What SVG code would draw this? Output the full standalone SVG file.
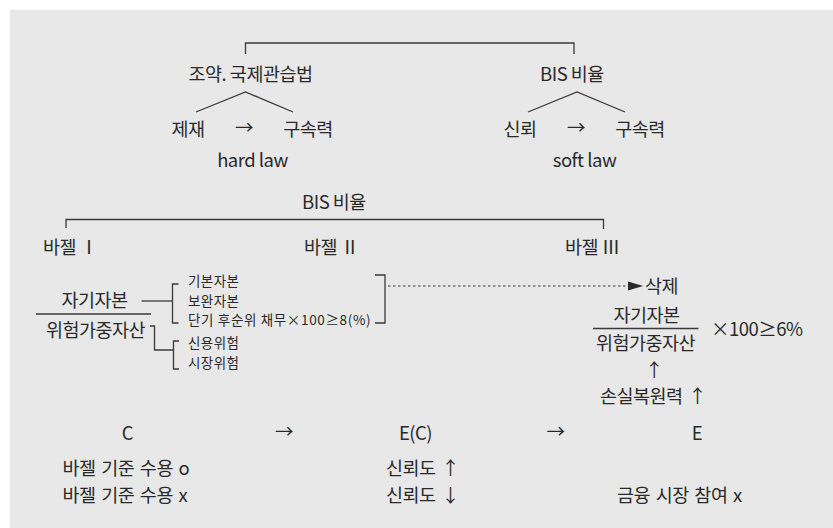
<svg xmlns="http://www.w3.org/2000/svg" width="833" height="528" viewBox="0 0 833 528">
<style>
text{font-family:"Noto Sans CJK KR","Noto Sans",sans-serif;fill:#2a2a2a;font-size:18.5px;letter-spacing:-0.5px}
.s{font-size:13.5px;letter-spacing:0.4px}
.m{text-anchor:middle}
.w{word-spacing:2px}
.ln{stroke:#3a3a3a;stroke-width:1.3;fill:none}
.dot{stroke:#3a3a3a;stroke-width:1.1;fill:none;stroke-dasharray:2.5 2.5}
</style>
<defs>
<marker id="ah" markerWidth="16" markerHeight="10" refX="15" refY="5" orient="auto" markerUnits="userSpaceOnUse">
<path d="M0,0.5 L15,5 L0,9.5 Z" fill="#2a2a2a"/>
</marker>
</defs>
<rect x="10" y="10" width="823" height="518" fill="#e8e8e8"/>
<g id="connectors">
<path class="ln" d="M245.5,54 V43 H574 V54"/>
<path class="ln" d="M196,112 L245.5,92 L293,112"/>
<path class="ln" d="M528,112 L577,92 L625,112"/>
<path class="ln" d="M66,228 V219.5 H603.5 V229"/>
<path class="ln" d="M36,314 H151"/>
<path class="ln" d="M141.5,301 H172.5"/>
<path class="ln" d="M178.5,284 H172.5 V323 H178.5"/>
<path class="ln" d="M150,326 H154.5 V350 H173.5"/>
<path class="ln" d="M179,341 H173.5 V369 H179"/>
<path class="ln" d="M375,275 H385 V323 H375"/>
<path class="dot" d="M388,286 H643" marker-end="url(#ah)"/>
<path class="ln" d="M593,328.5 H698.5"/>
</g>
<g id="n-treaty"><text class="m" x="250.5" y="81">조약. 국제관습법</text></g>
<g id="n-bis-top"><text class="m" x="572" y="81">BIS 비율</text></g>
<g id="n-hard">
<text class="m" x="188" y="136">제재</text>
<text class="m" x="244" y="134">→</text>
<text class="m" x="308" y="136">구속력</text>
<text class="m" x="252.5" y="167">hard law</text>
</g>
<g id="n-soft">
<text class="m" x="520" y="136">신뢰</text>
<text class="m" x="576" y="134">→</text>
<text class="m" x="640" y="136">구속력</text>
<text class="m" x="584.5" y="167">soft law</text>
</g>
<g id="n-bis-mid"><text class="m" x="334" y="209">BIS 비율</text></g>
<g id="n-basel1"><text x="43" y="254">바젤 Ⅰ</text></g>
<g id="n-basel2"><text x="304" y="254">바젤 Ⅱ</text></g>
<g id="n-basel3"><text x="565" y="254">바젤 Ⅲ</text></g>
<g id="n-ratio-left">
<text class="m" x="94.5" y="307">자기자본</text>
<text class="m" x="95.5" y="337">위험가중자산</text>
</g>
<g id="n-capital">
<text class="s" x="188" y="286">기본자본</text>
<text class="s" x="188" y="305.5">보완자본</text>
<text class="s" x="188" y="325" textLength="183" lengthAdjust="spacing">단기 후순위 채무×100≥8(%)</text>
</g>
<g id="n-risk">
<text class="s" x="188" y="348">신용위험</text>
<text class="s" x="188" y="367.5">시장위험</text>
</g>
<g id="n-delete"><text x="645" y="293">삭제</text></g>
<g id="n-ratio-right">
<text class="m" x="646.5" y="322">자기자본</text>
<text class="m" x="645.5" y="350">위험가중자산</text>
<text x="711" y="336">×100≥6%</text>
<text class="m" x="654" y="377">↑</text>
<text class="w" x="600" y="403">손실복원력 ↑</text>
</g>
<g id="n-stages">
<text class="m" x="127.5" y="440">C</text>
<text class="m" x="284" y="438">→</text>
<text class="m" x="415.5" y="440">E(C)</text>
<text class="m" x="555.5" y="438">→</text>
<text class="m" x="697" y="440">E</text>
</g>
<g id="n-c"><text class="w" x="62.5" y="475">바젤 기준 수용 o</text><text class="w" x="62.5" y="502">바젤 기준 수용 x</text></g>
<g id="n-ec"><text class="w" x="386" y="475">신뢰도 ↑</text><text class="w" x="386" y="502">신뢰도 ↓</text></g>
<g id="n-e"><text class="w" x="617" y="502">금융 시장 참여 x</text></g>
</svg>
